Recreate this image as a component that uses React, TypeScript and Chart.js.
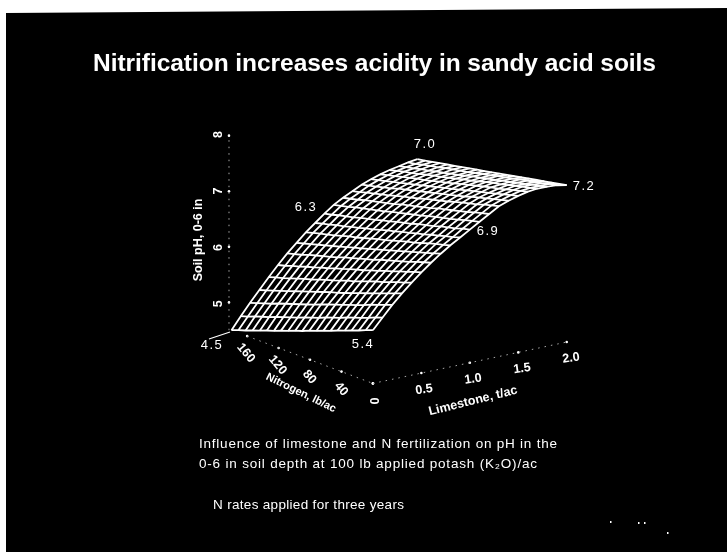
import React, { useEffect, useRef } from "react";
import { Chart, registerables } from "chart.js";

Chart.register(...registerables);

// Limestone rate (t/ac), one entry per row of SOIL_PH
const LIMESTONE = [0, 0.1, 0.2, 0.3, 0.4, 0.5, 0.6, 0.7, 0.8, 0.9, 1.0, 1.1, 1.2, 1.3, 1.4, 1.5, 1.6, 1.7, 1.8, 1.9, 2.0];
// Nitrogen rate (lb/ac), one entry per column of SOIL_PH
const NITROGEN = [180, 171, 162, 153, 144, 135, 126, 117, 108, 99, 90, 81, 72, 63, 54, 45, 36, 27, 18, 9, 0];
// Soil pH read from the surface
const SOIL_PH = [
  [4.50, 4.55, 4.59, 4.64, 4.68, 4.73, 4.77, 4.82, 4.86, 4.91, 4.95, 5.00, 5.04, 5.09, 5.13, 5.18, 5.22, 5.27, 5.31, 5.36, 5.40],
  [4.72, 4.76, 4.81, 4.85, 4.89, 4.94, 4.98, 5.02, 5.06, 5.11, 5.15, 5.19, 5.24, 5.28, 5.32, 5.37, 5.41, 5.45, 5.49, 5.54, 5.58],
  [4.93, 4.97, 5.01, 5.05, 5.10, 5.14, 5.18, 5.22, 5.26, 5.30, 5.35, 5.39, 5.43, 5.47, 5.51, 5.55, 5.59, 5.64, 5.68, 5.72, 5.76],
  [5.13, 5.17, 5.21, 5.25, 5.29, 5.33, 5.37, 5.41, 5.45, 5.49, 5.53, 5.56, 5.60, 5.64, 5.68, 5.72, 5.76, 5.80, 5.84, 5.88, 5.92],
  [5.33, 5.37, 5.40, 5.44, 5.48, 5.52, 5.55, 5.59, 5.63, 5.66, 5.70, 5.74, 5.77, 5.81, 5.85, 5.89, 5.92, 5.96, 6.00, 6.03, 6.07],
  [5.52, 5.55, 5.59, 5.62, 5.66, 5.69, 5.73, 5.76, 5.80, 5.83, 5.87, 5.90, 5.93, 5.97, 6.00, 6.04, 6.07, 6.11, 6.14, 6.18, 6.21],
  [5.70, 5.73, 5.76, 5.80, 5.83, 5.86, 5.89, 5.92, 5.96, 5.99, 6.02, 6.05, 6.08, 6.12, 6.15, 6.18, 6.21, 6.24, 6.28, 6.31, 6.34],
  [5.86, 5.89, 5.92, 5.95, 5.98, 6.01, 6.04, 6.07, 6.10, 6.13, 6.16, 6.19, 6.22, 6.25, 6.28, 6.31, 6.34, 6.37, 6.40, 6.43, 6.46],
  [6.02, 6.05, 6.08, 6.10, 6.13, 6.16, 6.19, 6.21, 6.24, 6.27, 6.30, 6.32, 6.35, 6.38, 6.41, 6.43, 6.46, 6.49, 6.52, 6.54, 6.57],
  [6.16, 6.19, 6.21, 6.24, 6.26, 6.29, 6.31, 6.34, 6.36, 6.39, 6.42, 6.44, 6.47, 6.49, 6.52, 6.54, 6.57, 6.59, 6.62, 6.64, 6.67],
  [6.30, 6.32, 6.35, 6.37, 6.39, 6.42, 6.44, 6.46, 6.49, 6.51, 6.54, 6.56, 6.58, 6.61, 6.63, 6.65, 6.68, 6.70, 6.72, 6.75, 6.77],
  [6.43, 6.45, 6.47, 6.50, 6.52, 6.54, 6.56, 6.58, 6.61, 6.63, 6.65, 6.67, 6.69, 6.72, 6.74, 6.76, 6.78, 6.80, 6.83, 6.85, 6.87],
  [6.53, 6.55, 6.57, 6.60, 6.62, 6.64, 6.66, 6.68, 6.71, 6.73, 6.75, 6.77, 6.79, 6.82, 6.84, 6.86, 6.88, 6.90, 6.93, 6.95, 6.97],
  [6.62, 6.64, 6.67, 6.69, 6.71, 6.73, 6.76, 6.78, 6.80, 6.82, 6.85, 6.87, 6.89, 6.91, 6.94, 6.96, 6.98, 7.00, 7.03, 7.05, 7.07],
  [6.71, 6.73, 6.75, 6.77, 6.79, 6.82, 6.84, 6.86, 6.88, 6.90, 6.92, 6.94, 6.96, 6.98, 7.00, 7.03, 7.05, 7.07, 7.09, 7.11, 7.13],
  [6.78, 6.80, 6.82, 6.84, 6.86, 6.88, 6.90, 6.92, 6.94, 6.96, 6.98, 7.00, 7.02, 7.04, 7.06, 7.08, 7.10, 7.12, 7.14, 7.16, 7.18],
  [6.84, 6.86, 6.88, 6.90, 6.92, 6.94, 6.95, 6.97, 6.99, 7.01, 7.03, 7.05, 7.07, 7.09, 7.11, 7.13, 7.14, 7.16, 7.18, 7.20, 7.22],
  [6.89, 6.91, 6.93, 6.94, 6.96, 6.98, 7.00, 7.01, 7.03, 7.05, 7.07, 7.08, 7.10, 7.12, 7.14, 7.15, 7.17, 7.19, 7.21, 7.22, 7.24],
  [6.93, 6.95, 6.96, 6.98, 6.99, 7.01, 7.02, 7.04, 7.05, 7.07, 7.09, 7.10, 7.12, 7.13, 7.15, 7.16, 7.18, 7.19, 7.21, 7.22, 7.24],
  [6.97, 6.98, 7.00, 7.01, 7.02, 7.04, 7.05, 7.06, 7.07, 7.09, 7.10, 7.11, 7.13, 7.14, 7.15, 7.17, 7.18, 7.19, 7.20, 7.22, 7.23],
  [7.00, 7.01, 7.02, 7.03, 7.04, 7.05, 7.06, 7.07, 7.08, 7.09, 7.10, 7.11, 7.12, 7.13, 7.14, 7.15, 7.16, 7.17, 7.18, 7.19, 7.20],
];

const PH_TICKS = [5, 6, 7, 8];
const N_TICKS = [160, 120, 80, 40, 0];
const LIME_TICKS = [0, 0.5, 1.0, 1.5, 2.0];
const PH_BASE = 4.5;
const N_MAX = 180;

const TITLE = "Nitrification increases acidity in sandy acid soils";
const CAPTION = [
  "Influence of limestone and N fertilization on pH in the",
  "0-6 in soil depth at 100 lb applied potash (K\u2082O)/ac",
  "N rates applied for three years",
];

// Oblique view of the box: floor corners and vertical scale at each corner
function project(lime: number, nitrogen: number, ph: number) {
  const u = lime / 2;
  const v = nitrogen / N_MAX;
  const mix = (b: number, c: number, a: number, d: number) =>
    (1 - u) * (1 - v) * b + u * (1 - v) * c + (1 - u) * v * a + u * v * d;
  const x = mix(373, 569, 230, 418);
  const floor = mix(385, 343, 331, 295);
  const scale = mix(60, 59, 56.4, 55);
  return { x, y: floor - (ph - PH_BASE) * scale };
}

// Vertical axis stands just left of the surface corner
function zAxisPoint(ph: number) {
  const p = project(0, N_MAX, ph);
  return { x: p.x - 2.5, y: p.y };
}

const WHITE = "#ffffff";

const surface = { borderColor: WHITE, borderWidth: 1.8, pointRadius: 0, showLine: true, tension: 0 };
const axisLine = {
  borderColor: "#a8a8a8",
  borderWidth: 1,
  borderDash: [1.5, 5],
  showLine: true,
  tension: 0,
  pointRadius: 0,
};
const tickDots = { showLine: false, pointRadius: 1.3, pointBackgroundColor: WHITE, pointBorderWidth: 0 };

function buildDatasets() {
  const sets: any[] = [];
  const zPts = [PH_BASE, ...PH_TICKS].map(zAxisPoint);
  const nPts = N_TICKS.map((n) => project(0, n, PH_BASE));
  const lPts = LIME_TICKS.map((l) => project(l, 0, PH_BASE));
  sets.push({ ...axisLine, data: zPts });
  sets.push({ ...axisLine, data: nPts });
  sets.push({ ...axisLine, data: lPts });
  sets.push({ ...tickDots, data: PH_TICKS.map(zAxisPoint) });
  sets.push({ ...tickDots, data: nPts });
  sets.push({ ...tickDots, data: lPts });
  SOIL_PH.forEach((row, i) => {
    sets.push({ ...surface, data: row.map((ph, j) => project(LIMESTONE[i], NITROGEN[j], ph)) });
  });
  NITROGEN.forEach((n, j) => {
    sets.push({ ...surface, data: SOIL_PH.map((row, i) => project(LIMESTONE[i], n, row[j])) });
  });
  return sets;
}

function fitted(ctx: CanvasRenderingContext2D, text: string, x: number, y: number, width: number) {
  (ctx as any).letterSpacing = "0px";
  const w = ctx.measureText(text).width;
  (ctx as any).letterSpacing = `${(width - w) / Math.max(1, text.length - 1)}px`;
  ctx.textAlign = "left";
  ctx.fillText(text, x, y);
  (ctx as any).letterSpacing = "0px";
}

function turned(ctx: CanvasRenderingContext2D, text: string, x: number, y: number, deg: number) {
  ctx.save();
  ctx.translate(x, y);
  ctx.rotate((deg * Math.PI) / 180);
  ctx.textAlign = "center";
  ctx.fillText(text, 0, 0);
  ctx.restore();
}

const backdrop = {
  id: "backdrop",
  beforeDraw(chart: any) {
    const c = chart.ctx as CanvasRenderingContext2D;
    c.save();
    c.fillStyle = WHITE;
    c.fillRect(0, 0, 727, 552);
    c.fillStyle = "#000000";
    c.beginPath();
    c.moveTo(6, 13);
    c.lineTo(727, 8);
    c.lineTo(727, 552);
    c.lineTo(6, 552);
    c.closePath();
    c.fill();
    c.restore();
  },
};

const annotations = {
  id: "annotations",
  afterDraw(chart: any) {
    const c = chart.ctx as CanvasRenderingContext2D;
    c.save();
    c.fillStyle = WHITE;
    c.strokeStyle = WHITE;
    c.textBaseline = "middle";

    c.font = 'bold 24.5px "Liberation Sans"';
    fitted(c, TITLE, 93, 64, 563);

    c.font = '13.5px "Liberation Sans"';
    fitted(c, CAPTION[0], 199, 444, 358);
    fitted(c, CAPTION[1], 199, 464, 338);
    fitted(c, CAPTION[2], 213, 505, 191);

    c.font = '13px "Liberation Sans"';
    c.textAlign = "center";
    (c as any).letterSpacing = "1.5px";
    c.fillText("4.5", 212, 345);
    c.fillText("5.4", 363, 344);
    c.fillText("6.3", 306, 207);
    c.fillText("7.0", 425, 144);
    c.fillText("6.9", 488, 231);
    c.fillText("7.2", 584, 186);
    (c as any).letterSpacing = "0px";

    c.lineWidth = 1.2;
    c.beginPath();
    c.moveTo(209, 339);
    c.lineTo(230, 332);
    c.stroke();

    c.font = 'bold 12.5px "Liberation Sans"';
    turned(c, "Soil pH, 0-6 in", 199, 240, -90);
    PH_TICKS.forEach((p) => {
      const pt = zAxisPoint(p);
      turned(c, String(p), pt.x - 9, pt.y + 1, -90);
    });
    N_TICKS.forEach((n) => {
      const pt = project(0, n, PH_BASE);
      turned(c, String(n), pt.x, pt.y + 16, n === 0 ? 90 : 50);
    });
    c.font = 'bold 11px "Liberation Sans"';
    turned(c, "Nitrogen, lb/ac", 301, 393, 26);
    c.font = 'bold 12.5px "Liberation Sans"';
    LIME_TICKS.forEach((l) => {
      const pt = project(l, 0, PH_BASE);
      if (l > 0) turned(c, l.toFixed(1), pt.x + 2, pt.y + 15, -8);
    });
    turned(c, "Limestone, t/ac", 473, 401, -14);

    [[610, 521], [638, 522], [644, 522], [667, 532]].forEach(([x, y]) => c.fillRect(x, y, 1.5, 2));
    c.restore();
  },
};

export default function App() {
  const ref = useRef<HTMLCanvasElement | null>(null);
  useEffect(() => {
    const chart = new Chart(ref.current as HTMLCanvasElement, {
      type: "scatter",
      data: { datasets: buildDatasets() },
      options: {
        animation: false,
        responsive: false,
        devicePixelRatio: 1,
        layout: { padding: 0 },
        plugins: { legend: { display: false }, tooltip: { enabled: false }, title: { display: false } },
        scales: {
          x: { type: "linear", display: false, min: 0, max: 727 },
          y: { type: "linear", display: false, min: 0, max: 552, reverse: true },
        },
      },
      plugins: [backdrop, annotations],
    } as any);
    return () => chart.destroy();
  }, []);
  return (
    <div style={{ position: "absolute", left: 0, top: 0, width: 727, height: 552, overflow: "hidden" }}>
      <canvas ref={ref} width={727} height={552} style={{ display: "block" }} />
    </div>
  );
}
